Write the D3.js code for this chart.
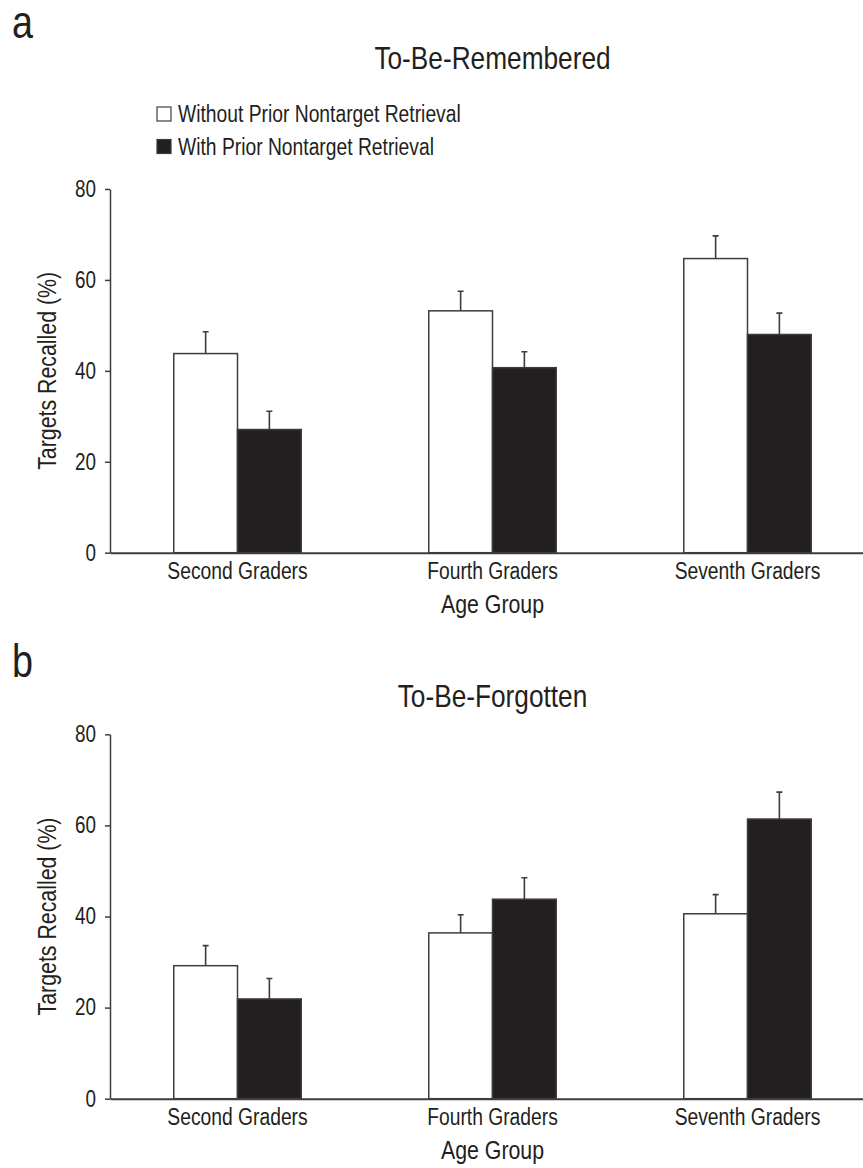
<!DOCTYPE html>
<html>
<head>
<meta charset="utf-8">
<script src="https://cdn.jsdelivr.net/npm/d3@7"></script>
<style>
  body { margin: 0; background: #fff; }
  text { font-family: "Liberation Sans", Arial, sans-serif; fill: #231f20; }
</style>
</head>
<body>
<div id="chart"></div>
<script>
// data (percent recalled, error = bar top to whisker top)
var groups = ["Second Graders", "Fourth Graders", "Seventh Graders"];
var series = ["Without Prior Nontarget Retrieval", "With Prior Nontarget Retrieval"];
var yTicks = [0, 20, 40, 60, 80];

var rememberedWithout = [43.8, 53.2, 64.7];
var rememberedWithoutErr = [4.8, 4.3, 5.0];
var rememberedWith = [27.1, 40.7, 48.0];
var rememberedWithErr = [4.0, 3.5, 4.7];

var forgottenWithout = [29.2, 36.4, 40.6];
var forgottenWithoutErr = [4.4, 4.0, 4.2];
var forgottenWith = [21.9, 43.8, 61.4];
var forgottenWithErr = [4.5, 4.7, 5.9];

var width = 863, height = 1168;
var ink = "#231f20", lineCol = "#3d3d3d";
var narrow = 0.82; // no condensed font installed, squeeze Liberation Sans instead

var svg = d3.select("#chart")
  .append("svg")
    .attr("width", width)
    .attr("height", height);

var x = d3.scaleBand()
  .domain(groups)
  .range([110, 875])
  .paddingInner(0.5)
  .paddingOuter(0.25);

var xSub = d3.scaleBand()
  .domain(series)
  .range([0, x.bandwidth()]);

var color = d3.scaleOrdinal()
  .domain(series)
  .range(["#ffffff", ink]);

function drawPanel(opts) {
  var y = d3.scaleLinear()
    .domain([0, 80])
    .range([opts.bottom, opts.top]);

  var g = svg.append("g");

  // panel letter
  g.append("text")
    .attr("x", 12)
    .attr("y", opts.letterY)
    .style("font-size", "46px")
    .text(opts.letter);

  // title
  g.append("text")
    .attr("x", (x.range()[0] + x.range()[1]) / 2)
    .attr("y", opts.titleY)
    .attr("text-anchor", "middle")
    .style("font-size", "32px")
    .text(opts.title);

  var rows = groups.map(function(grp, i) {
    return [
      {group: grp, key: series[0], value: opts.without[i], err: opts.withoutErr[i]},
      {group: grp, key: series[1], value: opts.with[i], err: opts.withErr[i]}
    ];
  });

  var bars = g.append("g")
    .selectAll("g")
    .data(rows)
    .enter()
    .append("g")
      .attr("transform", function(d) { return "translate(" + x(d[0].group) + ",0)"; });

  // error bars (upper whisker only)
  bars.selectAll("path.err")
    .data(function(d) { return d; })
    .enter().append("path")
      .attr("class", "err")
      .attr("d", function(d) {
        var cx = xSub(d.key) + xSub.bandwidth() / 2;
        var y0 = y(d.value), y1 = y(d.value + d.err);
        return "M" + cx + "," + y0 + "V" + y1 + "M" + (cx - 3) + "," + y1 + "H" + (cx + 3);
      })
      .attr("fill", "none")
      .attr("stroke", lineCol)
      .attr("stroke-width", 1.6);

  bars.selectAll("rect")
    .data(function(d) { return d; })
    .enter().append("rect")
      .attr("x", function(d) { return xSub(d.key); })
      .attr("y", function(d) { return y(d.value); })
      .attr("width", xSub.bandwidth())
      .attr("height", function(d) { return opts.bottom - y(d.value); })
      .attr("fill", function(d) { return color(d.key); })
      .attr("stroke", lineCol)
      .attr("stroke-width", 1.5);

  // y axis
  var yAxis = g.append("g")
    .attr("transform", "translate(110,0)")
    .call(d3.axisLeft(y).tickValues(yTicks).tickSize(5).tickSizeOuter(0).tickPadding(9));
  yAxis.select(".domain").attr("stroke", lineCol).attr("stroke-width", 1.5);
  yAxis.selectAll(".tick line").attr("stroke", lineCol).attr("stroke-width", 1.5);
  yAxis.selectAll(".tick text")
    .style("font-size", "23px")
    .style("font-family", "'Liberation Sans', Arial, sans-serif")
    .attr("fill", ink);

  // x axis
  var xAxis = g.append("g")
    .attr("transform", "translate(0," + opts.bottom + ")")
    .call(d3.axisBottom(x).tickSize(0).tickPadding(10));
  xAxis.select(".domain").attr("stroke", lineCol).attr("stroke-width", 2);
  xAxis.selectAll(".tick text")
    .style("font-size", "23.5px")
    .style("font-family", "'Liberation Sans', Arial, sans-serif")
    .attr("fill", ink);

  // axis titles
  g.append("text")
    .attr("x", (x.range()[0] + x.range()[1]) / 2)
    .attr("y", opts.bottom + 60)
    .attr("text-anchor", "middle")
    .style("font-size", "26px")
    .text("Age Group");

  g.append("text")
    .attr("transform", "translate(56," + (opts.top + opts.bottom) / 2 + ") rotate(-90)")
    .attr("text-anchor", "middle")
    .style("font-size", "26px")
    .text("Targets Recalled (%)");
}

drawPanel({
  letter: "a", letterY: 38,
  title: "To-Be-Remembered", titleY: 69,
  top: 189, bottom: 552.7,
  without: rememberedWithout, withoutErr: rememberedWithoutErr,
  with: rememberedWith, withErr: rememberedWithErr
});

drawPanel({
  letter: "b", letterY: 677,
  title: "To-Be-Forgotten", titleY: 707,
  top: 734.3, bottom: 1098.7,
  without: forgottenWithout, withoutErr: forgottenWithoutErr,
  with: forgottenWith, withErr: forgottenWithErr
});

// legend (panel a only)
var legend = svg.append("g")
  .selectAll("g")
  .data(series)
  .enter().append("g")
    .attr("transform", function(d, i) { return "translate(157," + (107 + i * 32.5) + ")"; });

legend.append("rect")
  .attr("width", 14)
  .attr("height", 14)
  .attr("fill", function(d) { return color(d); })
  .attr("stroke", lineCol)
  .attr("stroke-width", 1.2);

legend.append("text")
  .attr("x", 21)
  .attr("y", 15)
  .style("font-size", "23.5px")
  .text(function(d) { return d; });

// condense every label horizontally to mimic the narrow face
svg.selectAll("text").each(function() {
  var w = this.getComputedTextLength();
  d3.select(this)
    .attr("textLength", w * narrow)
    .attr("lengthAdjust", "spacingAndGlyphs");
});
</script>
</body>
</html>
